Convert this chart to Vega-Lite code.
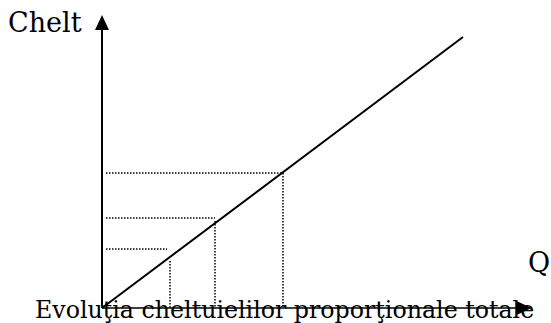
{
  "$schema": "https://vega.github.io/schema/vega-lite/v6.json",
  "width": 551,
  "height": 323,
  "padding": 0,
  "autosize": {"type": "none"},
  "background": "white",
  "config": {"view": {"stroke": null}},
  "datasets": {
    "cost": [
      {"q": 0, "c": 0},
      {"q": 361, "c": 271}
    ],
    "axes": [
      {"name": "Chelt", "q": 0, "c": 0, "q2": 0, "c2": 279, "w": "y"},
      {"name": "Q", "q": 0, "c": 0, "q2": 416, "c2": 0, "w": "x"}
    ],
    "heads": [
      {"dir": "up", "q": 0, "c": 285.5},
      {"dir": "right", "q": 422, "c": 0}
    ],
    "guides": [
      {"q": 4, "c": 135, "q2": 181, "c2": 135},
      {"q": 4, "c": 90, "q2": 113, "c2": 90},
      {"q": 4, "c": 59, "q2": 65, "c2": 59},
      {"q": 181, "c": 135, "q2": 181, "c2": 0},
      {"q": 113, "c": 87, "q2": 113, "c2": 0},
      {"q": 68, "c": 47, "q2": 68, "c2": 0}
    ],
    "axisNames": [
      {"text": "Chelt", "q": -94, "c": 276},
      {"text": "Q", "q": 426, "c": 36}
    ],
    "caption": [
      {"text": "Evoluţia cheltuielilor proporţionale totale", "q": -67, "c": -10}
    ]
  },
  "layer": [
    {
      "data": {"name": "guides"},
      "mark": {"type": "rule", "color": "black", "strokeWidth": 1.5, "strokeDash": [1.5, 1.5]},
      "encoding": {
        "x": {"field": "q", "type": "quantitative", "scale": {"domain": [-102, 449], "nice": false, "zero": false}, "axis": null},
        "y": {"field": "c", "type": "quantitative", "scale": {"domain": [-15, 308], "nice": false, "zero": false}, "axis": null},
        "x2": {"field": "q2"},
        "y2": {"field": "c2"}
      }
    },
    {
      "data": {"name": "axes"},
      "mark": {"type": "rule", "color": "black"},
      "encoding": {
        "x": {"field": "q", "type": "quantitative"},
        "y": {"field": "c", "type": "quantitative"},
        "x2": {"field": "q2"},
        "y2": {"field": "c2"},
        "strokeWidth": {"field": "w", "type": "nominal", "scale": {"domain": ["x", "y"], "range": [1.5, 2]}, "legend": null}
      }
    },
    {
      "data": {"name": "heads"},
      "mark": {"type": "point", "filled": true, "color": "black", "opacity": 1, "size": 225},
      "encoding": {
        "x": {"field": "q", "type": "quantitative"},
        "y": {"field": "c", "type": "quantitative"},
        "shape": {
          "field": "dir",
          "type": "nominal",
          "scale": {"domain": ["up", "right"], "range": ["M0,-1L-0.93,1L0.93,1Z", "M1,0L-1,-0.93L-1,0.93Z"]},
          "legend": null
        }
      }
    },
    {
      "data": {"name": "cost"},
      "mark": {"type": "line", "color": "black", "strokeWidth": 2},
      "encoding": {
        "x": {"field": "q", "type": "quantitative"},
        "y": {"field": "c", "type": "quantitative"}
      }
    },
    {
      "data": {"name": "axisNames"},
      "mark": {"type": "text", "font": "DejaVu Serif", "fontSize": 27, "color": "black", "align": "left", "baseline": "alphabetic"},
      "encoding": {
        "x": {"field": "q", "type": "quantitative"},
        "y": {"field": "c", "type": "quantitative"},
        "text": {"field": "text"}
      }
    },
    {
      "data": {"name": "caption"},
      "mark": {"type": "text", "font": "DejaVu Serif", "fontSize": 23.7, "color": "black", "align": "left", "baseline": "alphabetic"},
      "encoding": {
        "x": {"field": "q", "type": "quantitative"},
        "y": {"field": "c", "type": "quantitative"},
        "text": {"field": "text"}
      }
    }
  ]
}
